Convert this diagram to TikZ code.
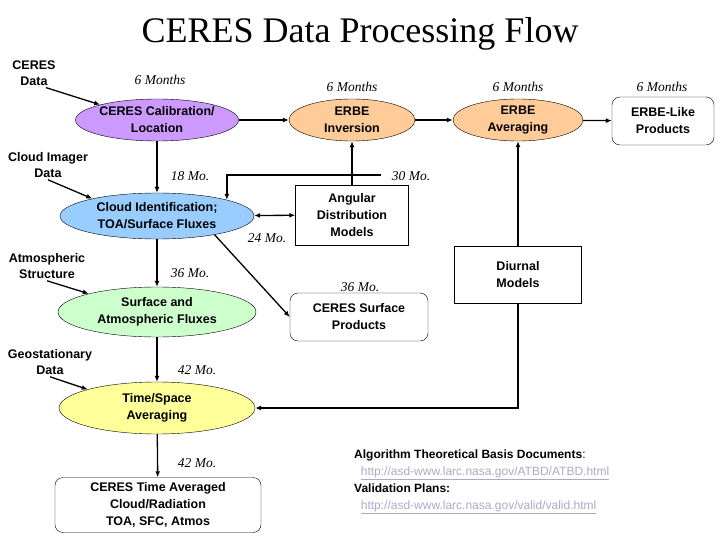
\documentclass[tikz,border=0pt]{standalone}
\usepackage{fontspec}
\setmainfont{Liberation Sans}
\newfontfamily\serif{Liberation Serif}
\usetikzlibrary{shapes.geometric,arrows.meta}
\definecolor{mpurple}{RGB}{204,153,255}
\definecolor{morange}{RGB}{255,204,153}
\definecolor{mblue}{RGB}{153,204,255}
\definecolor{mgreen}{RGB}{204,255,204}
\definecolor{myellow}{RGB}{255,255,153}
\definecolor{mlink}{RGB}{170,170,200}

\tikzset{
  proc/.style={ellipse, draw=black, inner sep=0pt, align=center, font=\bfseries\fontsize{12.5}{17}\selectfont},
  prod/.style={draw=black, rounded corners=8pt, align=center, font=\bfseries\fontsize{12.5}{17}\selectfont},
  model/.style={draw=black, align=center, font=\bfseries\fontsize{12.5}{17}\selectfont},
  src/.style={align=center, font=\bfseries\fontsize{12.5}{16}\selectfont, inner sep=0pt},
  dur/.style={font=\serif\itshape\fontsize{13.5}{15}\selectfont, inner sep=0pt},
  flow/.style={-{Latex[length=6pt,width=5pt]}, line width=1.3pt},
}

\begin{document}
\begin{tikzpicture}[x=1pt, y=-1pt]
  \useasboundingbox (0,0) rectangle (720,540);
  \node[font=\serif\fontsize{36}{40}\selectfont] (title) at (360,34) {CERES Data Processing Flow};

  % processes
  \node[proc, fill=mpurple, minimum width=130pt, minimum height=42pt] (calib) at (157,120) {CERES Calibration/\\Location};
  \node[proc, fill=morange, minimum width=126pt, minimum height=42pt] (inv) at (352,120) {ERBE\\Inversion};
  \node[proc, fill=morange, minimum width=130pt, minimum height=42pt] (avg) at (518,120) {ERBE\\Averaging};
  \node[prod, minimum width=102pt, minimum height=48pt] (erbelike) at (663,121) {ERBE-Like\\Products};
  \node[proc, fill=mblue, minimum width=194pt, minimum height=46pt] (cloud) at (157,216) {Cloud Identification;\\TOA/Surface Fluxes};
  \node[model, minimum width=113pt, minimum height=60pt] (adm) at (352,215) {Angular\\Distribution\\Models};
  \node[model, minimum width=127pt, minimum height=57pt] (diurnal) at (518,275) {Diurnal\\Models};
  \node[proc, fill=mgreen, minimum width=198pt, minimum height=50pt] (sfc) at (157,312) {Surface and\\Atmospheric Fluxes};
  \node[prod, minimum width=138pt, minimum height=48pt] (sfcprod) at (359,317) {CERES Surface\\Products};
  \node[proc, fill=myellow, minimum width=196pt, minimum height=52pt] (tsa) at (157,408) {Time/Space\\Averaging};
  \node[prod, minimum width=206pt, minimum height=55pt] (tavg) at (158,505) {CERES Time Averaged\\Cloud/Radiation\\TOA, SFC, Atmos};

  % sources
  \node[src] (ceresdata) at (34,73) {CERES\\Data};
  \node[src] (imager) at (48,165) {Cloud Imager\\Data};
  \node[src] (atmos) at (47,266) {Atmospheric\\Structure};
  \node[src] (geo) at (50,362) {Geostationary\\Data};

  % durations
  \node[dur] (d1) at (160,80) {6 Months};
  \node[dur] (d2) at (352,87) {6 Months};
  \node[dur] (d3) at (518,87) {6 Months};
  \node[dur] (d4) at (662,87) {6 Months};
  \node[dur] (d5) at (190,176) {18 Mo.};
  \node[dur] (d6) at (411,176) {30 Mo.};
  \node[dur] (d7) at (267,238) {24 Mo.};
  \node[dur] (d8) at (190,273) {36 Mo.};
  \node[dur] (d9) at (360,287) {36 Mo.};
  \node[dur] (d10) at (197,370) {42 Mo.};
  \node[dur] (d11) at (197,463) {42 Mo.};

  % connectors
  \draw[flow] (ceresdata.south) ++(12,2) coordinate (c1) -- (calib.165);
  \draw[flow] (imager.south) ++(0,2) coordinate (c2) -- (cloud.165);
  \draw[flow] (atmos.south) ++(0,2) coordinate (c3) -- (sfc.165);
  \draw[flow] (geo.south) ++(0,2) coordinate (c4) -- (tsa.165);
  \draw[flow] (calib) -- (inv);
  \draw[flow] (inv) -- (avg);
  \draw[flow] (avg) -- (erbelike);
  \draw[flow] (calib) -- (cloud);
  \draw[flow] (cloud) -- (sfc);
  \draw[flow] (sfc) -- (tsa);
  \draw[flow] (tsa) -- (tavg);
  \draw[flow] (adm) -- (inv);
  \coordinate (stub) at (381,175);
  \draw[flow] (stub) -| (cloud.13);
  \draw[{Latex[length=6pt,width=5pt]}-{Latex[length=6pt,width=5pt]}, line width=1.3pt] (cloud) -- (adm);
  \draw[flow] (cloud.-18) -- (sfcprod.west);
  \draw[flow] (diurnal) -- (avg);
  \draw[flow] (diurnal.south) |- (tsa.east);

  % documents
  \node[anchor=west, align=left, inner sep=0pt, font=\fontsize{12}{17}\selectfont] (docs) at (354,482)
    {\textbf{Algorithm Theoretical Basis Documents}:\\
     \ \ \textcolor{mlink}{\underline{http://asd-www.larc.nasa.gov/ATBD/ATBD.html}}\\
     \textbf{Validation Plans:}\\
     \ \ \textcolor{mlink}{\underline{http://asd-www.larc.nasa.gov/valid/valid.html}}};
\end{tikzpicture}
\end{document}
